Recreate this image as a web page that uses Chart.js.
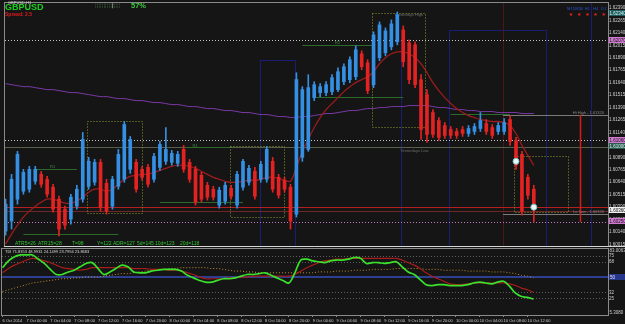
<!DOCTYPE html>
<html><head><meta charset="utf-8">
<script src="https://cdn.jsdelivr.net/npm/chart.js@4.4.1/dist/chart.umd.min.js"></script>
<style>
html,body{margin:0;padding:0;background:#151515;width:625px;height:324px;overflow:hidden;position:relative}
canvas{position:absolute;left:0}
#a{top:-2px}
#b{top:245px}
</style></head><body>
<canvas id="a" width="625" height="253" style="width:625px;height:253px"></canvas>
<canvas id="b" width="625" height="79" style="width:625px;height:79px"></canvas>
<script>
// ---------- DATA (GBPUSD H1, 6 Oct 20:00 .. 10 Oct 13:00) ----------
const TIME_TICKS = ["6 Oct 2014","7 Oct 00:00","7 Oct 04:00","7 Oct 08:00","7 Oct 12:00","7 Oct 16:00","7 Oct 20:00","8 Oct 00:00","8 Oct 04:00","8 Oct 08:00","8 Oct 12:00","8 Oct 16:00","8 Oct 20:00","9 Oct 00:00","9 Oct 04:00","9 Oct 08:00","9 Oct 12:00","9 Oct 16:00","9 Oct 20:00","10 Oct 00:00","10 Oct 04:00","10 Oct 08:00","10 Oct 12:00"];
const TIME_TICK_BARS = [0,4,8,12,16,20,24,28,32,36,40,44,48,52,56,60,64,68,72,76,80,84,88];

const OPEN = [1.6015,1.6025,1.6047,1.6055,1.6057,1.6065,1.6072,1.6067,1.6059,1.6047,
1.6037,1.6027,1.6040,1.6047,1.6060,1.6064,1.6084,1.6063,1.6040,1.6060,
1.6067,1.6077,1.6084,1.6077,1.6079,1.6067,1.6079,1.6085,1.6084,1.6083,
1.6097,1.6084,1.6077,1.6071,1.6061,1.6057,1.6041,1.6045,1.6058,1.6041,
1.6059,1.6064,1.6075,1.6067,1.6067,1.6085,1.6069,1.6066,1.6059,1.6032,
1.6089,1.6097,1.6149,1.6154,1.6154,1.6155,1.6157,1.6165,1.6167,1.6170,
1.6193,1.6184,1.6162,1.6189,1.6194,1.6200,1.6205,1.6217,1.6204,1.6202,
1.6167,1.6152,1.6134,1.6126,1.6121,1.6117,1.6115,1.6117,1.6113,1.6115,
1.6118,1.6123,1.6119,1.6115,1.6115,1.6127,1.6106,1.6092,1.6069,1.6057];
const HIGH = [1.6047,1.6072,1.6095,1.6077,1.6080,1.6080,1.6075,1.6070,1.6062,1.6050,
1.6040,1.6052,1.6061,1.6114,1.6089,1.6087,1.6087,1.6067,1.6070,1.6097,
1.6125,1.6110,1.6087,1.6080,1.6082,1.6093,1.6105,1.6119,1.6096,1.6095,
1.6101,1.6087,1.6080,1.6074,1.6064,1.6060,1.6059,1.6064,1.6061,1.6075,
1.6087,1.6081,1.6079,1.6085,1.6100,1.6089,1.6072,1.6069,1.6062,1.6174,
1.6160,1.6172,1.6165,1.6163,1.6165,1.6172,1.6179,1.6183,1.6190,1.6201,
1.6196,1.6187,1.6215,1.6225,1.6219,1.6227,1.6235,1.6221,1.6207,1.6205,
1.6172,1.6157,1.6137,1.6129,1.6124,1.6120,1.6118,1.6120,1.6121,1.6123,
1.6134,1.6127,1.6122,1.6124,1.6128,1.6131,1.6109,1.6095,1.6072,1.6061];
const LOW = [1.6011,1.6017,1.6042,1.6052,1.6054,1.6062,1.6059,1.6049,1.6034,1.6010,
1.6017,1.6022,1.6037,1.6044,1.6057,1.6061,1.6035,1.6032,1.6037,1.6057,
1.6064,1.6073,1.6054,1.6066,1.6059,1.6064,1.6076,1.6082,1.6081,1.6080,
1.6074,1.6064,1.6041,1.6044,1.6046,1.6046,1.6038,1.6042,1.6047,1.6038,
1.6056,1.6061,1.6047,1.6064,1.6064,1.6054,1.6048,1.6054,1.6017,1.6029,
1.6085,1.6095,1.6146,1.6150,1.6151,1.6152,1.6155,1.6162,1.6164,1.6167,
1.6177,1.6153,1.6159,1.6186,1.6191,1.6197,1.6202,1.6180,1.6163,1.6159,
1.6107,1.6104,1.6109,1.6106,1.6108,1.6108,1.6108,1.6110,1.6110,1.6112,
1.6115,1.6112,1.6108,1.6112,1.6112,1.6101,1.6077,1.6031,1.6047,1.6024];
const CLOSE = [1.6042,1.6067,1.6092,1.6074,1.6077,1.6077,1.6062,1.6052,1.6037,1.6017,
1.6021,1.6049,1.6057,1.6107,1.6085,1.6084,1.6039,1.6035,1.6067,1.6092,
1.6122,1.6107,1.6057,1.6069,1.6062,1.6090,1.6102,1.6097,1.6093,1.6092,
1.6077,1.6067,1.6044,1.6047,1.6049,1.6049,1.6056,1.6061,1.6050,1.6072,
1.6085,1.6078,1.6050,1.6082,1.6097,1.6057,1.6051,1.6057,1.6025,1.6167,
1.6157,1.6159,1.6162,1.6160,1.6162,1.6169,1.6175,1.6180,1.6187,1.6197,
1.6180,1.6156,1.6212,1.6222,1.6216,1.6223,1.6232,1.6185,1.6167,1.6162,
1.6117,1.6112,1.6112,1.6109,1.6111,1.6111,1.6111,1.6113,1.6118,1.6120,
1.6126,1.6115,1.6111,1.6121,1.6124,1.6105,1.6081,1.6035,1.6051,1.6037];

const MA_FAST = [1.6002,1.6012,1.6021,1.6029,1.6035,1.6040,1.6044,1.6047,1.6047,1.6045,
1.6043,1.6043,1.6045,1.6049,1.6054,1.6057,1.6057,1.6055,1.6057,1.6062,
1.6067,1.6070,1.6071,1.6072,1.6072,1.6074,1.6076,1.6078,1.6080,1.6081,
1.6081,1.6080,1.6078,1.6075,1.6072,1.6069,1.6067,1.6065,1.6064,1.6064,
1.6065,1.6066,1.6066,1.6067,1.6069,1.6069,1.6068,1.6066,1.6065,1.6079,
1.6095,1.6107,1.6119,1.6129,1.6137,1.6143,1.6149,1.6155,1.6160,1.6164,
1.6167,1.6170,1.6175,1.6183,1.6189,1.6193,1.6195,1.6195,1.6193,1.6189,
1.6183,1.6174,1.6164,1.6156,1.6149,1.6143,1.6138,1.6134,1.6131,1.6129,
1.6127,1.6126,1.6125,1.6125,1.6124,1.6121,1.6113,1.6101,1.6091,1.6081];
const MA_SLOW = [1.6163,1.6162,1.6161,1.6160,1.6160,1.6159,1.6158,1.6157,1.6157,1.6156,
1.6155,1.6154,1.6154,1.6153,1.6152,1.6151,1.6150,1.6150,1.6149,1.6148,
1.6148,1.6147,1.6146,1.6146,1.6145,1.6144,1.6144,1.6143,1.6142,1.6142,
1.6141,1.6140,1.6140,1.6139,1.6138,1.6138,1.6137,1.6136,1.6136,1.6135,
1.6134,1.6134,1.6133,1.6132,1.6132,1.6131,1.6130,1.6130,1.6129,1.6129,
1.6130,1.6130,1.6131,1.6132,1.6133,1.6133,1.6134,1.6135,1.6136,1.6136,
1.6137,1.6138,1.6138,1.6139,1.6139,1.6140,1.6140,1.6140,1.6141,1.6141,
1.6141,1.6141,1.6140,1.6139,1.6139,1.6138,1.6137,1.6137,1.6136,1.6136,
1.6135,1.6135,1.6135,1.6134,1.6134,1.6134,1.6134,1.6133,1.6133,1.6133];

const MARK_BARS = [86, 89];
const MARK_PRICES = [1.6085, 1.6039];

const PRICE_TICKS = [1.62390,1.62265,1.62140,1.62015,1.61890,1.61765,1.61640,1.61515,1.61390,1.61265,1.61140,1.61015,1.60890,1.60765,1.60640,1.60515,1.60390,1.60265,1.60140,1.60015];
const PRICE_MIN = 1.6000, PRICE_MAX = 1.6244;
const AXIS_MARKS = [1.6234, 1.6207, 1.6106, 1.6100, 1.6036, 1.6025];

// chart objects (prices / bar positions)
const LEVELS = [1.6207, 1.6106, 1.6099, 1.6039, 1.6035, 1.6024];
const GREEN_SEGS = [[5,12,1.6077],[26,40,1.6044],[30,38,1.6099],[50,62,1.6202],[52,67,1.6150],[75,85,1.6133],[3,19,1.6012]];
const BOXES = [[13.8,22.9,1.6126,1.6033],[37.8,46.9,1.6100,1.6029],[61.8,70.7,1.6234,1.6119],[85.7,94.7,1.6090,1.6034]];
const NAVY_V = [[42.8,1.6187],[48.7,1.6187],[66.6,1.6207],[74.7,1.6217],[91.0,1.6217],[98.7,null]];
const NAVY_H = [[42.8,48.7,1.6187],[74.7,91.0,1.6217]];
const RANGE_FROM = 83.8, RANGE_HI = 1.6132, RANGE_LO = 1.6032;
const RED_V = [96.7, 1.6132, 1.6024];
const DIM_RED_V = 83.8;
const TF_LABELS = ['M15','M30','H1','H4','D1'];
const ATR_TEXTS = ['ATR5=26','ATR15=28','T=98','Y=122','ADR=127','5d=145','10d=123','20d=118'];
const TDI_TITLE = 'TDI 71.8353 48.9931 24.1499 23.7994 23.8683';

// TDI sub-window
const TDI_PRICE = [61,69,74,76,76,76,71,66,59,53,53,56,58,62,66,67,60,53,56,60,64,62,56,55,55,57,58,59,59,59,57,52,49,46,44,44,46,48,48,49,51,53,53,54,55,52,49,46,43,55,70,71,69,68,67,69,70,70,71,73,72,66,67,67,66,67,68,62,56,53,47,41,40,41,41,40,40,40,41,43,44,43,42,44,45,39,31,27,26,24];
const TDI_SIGNAL = [55,60,64,67,70,72,71,69,67,64,61,60,59,58,59,61,61,61,61,61,61,61,60,60,60,59,59,59,58,58,57,55,53,50,48,48,48,48,49,49,50,50,51,51,51,51,51,51,51,53,57,61,64,67,69,70,71,71,72,72,72,72,72,72,72,72,72,70,67,64,60,55,51,48,45,42,41,41,42,43,43,43,43,43,43,42,40,37,35,32];
const TDI_BASE = [33,35,37,39,41,43,44,45,46,47,48,48,49,49,50,50,50,51,52,53,54,54,55,56,57,58,59,59,60,60,61,61,61,61,61,60,60,59,58,57,57,56,56,55,55,55,55,55,55,55,55,55,55,56,56,56,57,57,57,58,58,58,59,59,59,59,60,60,60,60,60,59,59,59,58,58,58,58,57,57,57,57,56,56,56,55,54,52,51,49];
const TDI_TICKS = [75, 68, 50, 32, 25];
const TDI_DOTTED = [75, 68, 32, 25];
const TDI_MID = 50;
const TDI_MIN = 5.308, TDI_MAX = 83.0063;

const X_MIN = -0.1, X_MAX = 101.5;

// ---------- RENDER ----------
Chart.defaults.font.family = "'Liberation Sans','DejaVu Sans',sans-serif";
const pts = arr => arr.map((v,i)=>({x:i, y:v}));
const candleColors = OPEN.map((o,i)=> CLOSE[i] >= o ? '#3590e4' : '#e32222');
const wickData = OPEN.map((o,i)=>({x:i, y:[LOW[i], HIGH[i]]}));
const bodyData = OPEN.map((o,i)=>({x:i, y:[Math.min(o,CLOSE[i]), Math.max(o,CLOSE[i])]}));

function hl(ctx,x1,x2,y){ctx.beginPath();ctx.moveTo(x1,Math.round(y)+0.5);ctx.lineTo(x2,Math.round(y)+0.5);ctx.stroke();}
function vl(ctx,x,y1,y2){ctx.beginPath();ctx.moveTo(Math.round(x)+0.5,y1);ctx.lineTo(Math.round(x)+0.5,y2);ctx.stroke();}

const LEVEL_STYLE = [
  {c:'#c4c4c4',d:[1,2]},{c:'#c4c4c4',d:[1,2]},{c:'#56604a',d:[]},
  {c:'#b42020',d:[]},{c:'#6e2626',d:[]},{c:'#c47ac4',d:[1,2]}];

const objectsA = {
  id:'objectsA',
  beforeDatasetsDraw(chart){
    const {ctx, chartArea:a, scales:{x,y}} = chart;
    const X=v=>x.getPixelForValue(v), Y=v=>y.getPixelForValue(v);
    ctx.save();
    ctx.beginPath(); ctx.rect(a.left,a.top,a.right-a.left,a.bottom-a.top); ctx.clip();
    ctx.lineWidth=1;
    ctx.strokeStyle='#1a1e72';
    NAVY_V.forEach(([b,p])=>vl(ctx,X(b),p==null?a.top:Y(p),a.bottom));
    NAVY_H.forEach(([b0,b1,p])=>hl(ctx,X(b0),X(b1),Y(p)));
    ctx.strokeStyle='#4a1818'; vl(ctx,X(DIM_RED_V),a.top,a.bottom);
    LEVELS.forEach((p,k)=>{const s=LEVEL_STYLE[k];ctx.strokeStyle=s.c;ctx.setLineDash(s.d);hl(ctx,a.left,a.right,Y(p));});
    ctx.setLineDash([]);
    ctx.strokeStyle='#2b6a2b';
    GREEN_SEGS.forEach(([b0,b1,p])=>hl(ctx,X(b0),X(b1),Y(p)));
    ctx.strokeStyle='#7a7a7a';
    hl(ctx,X(RANGE_FROM),a.right,Y(RANGE_HI)); hl(ctx,X(RANGE_FROM),a.right,Y(RANGE_LO));
    ctx.strokeStyle='#d41c1c'; ctx.lineWidth=1.5;
    vl(ctx,X(RED_V[0]),Y(RED_V[1]),Y(RED_V[2]));
    ctx.lineWidth=1;
    ctx.strokeStyle='#8c9c2c'; ctx.setLineDash([1,2]);
    BOXES.forEach(([b0,b1,pt,pb])=>{
      const x0=Math.round(X(b0))+0.5,x1=Math.round(X(b1))+0.5,y0=Math.round(Y(pt))+0.5,y1=Math.round(Y(pb))+0.5;
      ctx.strokeRect(x0,y0,x1-x0,y1-y0);});
    ctx.setLineDash([]);
    ctx.font='4px "Liberation Sans"'; ctx.textBaseline='bottom'; ctx.fillStyle='#3f8f3f';
    ctx.fillText('R1',X(7.5),Y(1.6077)); ctx.fillText('R1',X(31.5),Y(1.6099)); ctx.fillText('R2',X(55.5),Y(1.6202));
    ctx.fillStyle='#6e6e6e';
    ctx.fillText('Yesterdays High',X(65.5),Y(1.6230)); ctx.fillText('Yesterdays Low',X(66.5),Y(1.6093));
    ctx.fillStyle='#8a8a8a'; ctx.textAlign='right';
    ctx.fillText('Hi High - '+RANGE_HI.toFixed(5),a.right-4,Y(RANGE_HI));
    ctx.fillText('Lo Low - '+RANGE_LO.toFixed(5),a.right-4,Y(RANGE_LO));
    ctx.restore();
  }
};

const MARK_STYLE = [['#1d5e5e','#d8f0f0'],['#d27ad2','#101010'],['#d27ad2','#101010'],['#2a5d50','#d8f0f0'],['#f0f0f0','#101010'],['#d27ad2','#101010']];
const overlayA = {
  id:'overlayA',
  afterDraw(chart){
    const {ctx, chartArea:a, scales:{y}} = chart;
    const off = 2;
    ctx.save();
    ctx.strokeStyle='#8a8a8a'; ctx.lineWidth=1;
    ctx.strokeRect(a.left-0.5,a.top-0.5,a.right-a.left+1,a.bottom-a.top+1);
    ctx.strokeStyle='#d6d6d6'; hl(ctx,a.left-1,625,a.bottom);
    ctx.font='4.5px "Liberation Sans"'; ctx.textBaseline='middle';
    AXIS_MARKS.forEach((p,k)=>{const yy=Math.round(y.getPixelForValue(p));
      ctx.fillStyle=MARK_STYLE[k][0]; ctx.fillRect(a.right+1,yy-3,625-a.right-1,6);
      ctx.fillStyle=MARK_STYLE[k][1]; ctx.fillText(p.toFixed(5),a.right+1.5,yy+0.3);});
    ctx.textBaseline='top';
    ctx.fillStyle='#dcdcdc'; ctx.font='4px "Liberation Sans"'; ctx.fillText('GBPUSD,H1',8,1+off);
    ctx.fillStyle='#1fd21f'; ctx.font='bold 9px "Liberation Sans"'; ctx.fillText('GBPUSD',5,3.5+off);
    ctx.fillStyle='#e21d1d'; ctx.font='bold 5px "Liberation Sans"'; ctx.fillText('Spread: 2.5',5,12.5+off);
    ctx.fillStyle='#4e7a4e'; ctx.font='5px "DejaVu Sans"'; ctx.fillText('¦¦¦¦¦¦¦¦¦¦¦¦¦¦¦',95,3+off);
    ctx.fillStyle='#e0e0e0'; ctx.fillText('|',112,3+off);
    ctx.fillStyle='#3ecf3e'; ctx.font='bold 7.5px "Liberation Sans"'; ctx.fillText('57%',131,2+off);
    ctx.font='4px "Liberation Sans"'; ctx.textAlign='center';
    TF_LABELS.forEach((t,k)=>{const xx=571+k*8.2;
      ctx.fillStyle='#2a50d8'; ctx.fillText(t,xx,7+off);
      ctx.fillStyle='#e02222'; ctx.font='5px "DejaVu Sans"'; ctx.fillText('★',xx,12+off); ctx.font='4px "Liberation Sans"';});
    ctx.textAlign='left';
    ctx.fillStyle='#2fc42f'; ctx.font='5px "Liberation Sans"'; ctx.textBaseline='middle';
    const ax=[15,38,72,97,113,137,155,180];
    ATR_TEXTS.forEach((t,k)=>ctx.fillText(t,ax[k],244+off));
    ctx.restore();
  }
};

new Chart(document.getElementById('a'), {
  type:'bar',
  data:{datasets:[
    {type:'line', data:pts(MA_SLOW), borderColor:'#7c3aa8', borderWidth:1, pointRadius:0, tension:0.3, order:5},
    {type:'line', data:pts(MA_FAST), borderColor:'#9a1c1c', borderWidth:1.3, pointRadius:0, tension:0.35, order:4},
    {data:wickData, backgroundColor:candleColors, barThickness:1, grouped:false, minBarLength:1, order:3},
    {data:bodyData, backgroundColor:candleColors, barThickness:3, grouped:false, minBarLength:1, order:2},
    {type:'scatter', data:MARK_BARS.map((b,k)=>({x:b,y:MARK_PRICES[k]})), pointRadius:3, pointBackgroundColor:'#eaf8f8', pointBorderColor:'#7cc4c4', pointBorderWidth:1, order:1}
  ]},
  options:{
    responsive:false, animation:false, devicePixelRatio:1, events:[],
    layout:{padding:{left:2,top:5,right:0,bottom:4}},
    plugins:{legend:{display:false}, tooltip:{enabled:false}},
    scales:{
      x:{type:'linear', min:X_MIN, max:X_MAX, offset:false, display:false},
      y:{position:'right', min:PRICE_MIN, max:PRICE_MAX,
         afterBuildTicks:s=>{s.ticks=PRICE_TICKS.map(v=>({value:v}));},
         afterFit:s=>{s.width=17;},
         grid:{display:false, drawTicks:false}, border:{display:false},
         ticks:{color:'#cfcfcf', font:{size:4.5}, padding:1, callback:v=>Number(v).toFixed(5)}}
    }
  },
  plugins:[objectsA, overlayA]
});

const levelsB = {
  id:'levelsB',
  beforeDatasetsDraw(chart){
    const {ctx, chartArea:a, scales:{y}} = chart;
    ctx.save(); ctx.lineWidth=1; ctx.strokeStyle='#5e5e5e'; ctx.setLineDash([1,2]);
    TDI_DOTTED.forEach(v=>hl(ctx,a.left,a.right,y.getPixelForValue(v)));
    ctx.setLineDash([]); ctx.strokeStyle='#2e3f92'; ctx.lineWidth=2;
    ctx.beginPath(); const ym=Math.round(y.getPixelForValue(TDI_MID)); ctx.moveTo(a.left,ym); ctx.lineTo(a.right,ym); ctx.stroke();
    ctx.restore();
  },
  afterDraw(chart){
    const {ctx, chartArea:a, scales:{y}} = chart;
    ctx.save(); ctx.strokeStyle='#8a8a8a'; ctx.lineWidth=1;
    ctx.strokeRect(a.left-0.5,a.top-0.5,a.right-a.left+1,a.bottom-a.top+1);
    ctx.font='4.5px "Liberation Sans"'; ctx.textBaseline='middle';
    const ym=Math.round(y.getPixelForValue(TDI_MID));
    ctx.fillStyle='#26378a'; ctx.fillRect(a.right+1,ym-3,625-a.right-1,6);
    ctx.fillStyle='#e0e0ff'; ctx.fillText(String(TDI_MID),a.right+2,ym+0.3);
    ctx.fillStyle='#cfcfcf';
    ctx.fillText(TDI_MAX.toFixed(4),a.right+1.5,a.top+2);
    ctx.fillText(TDI_MIN.toFixed(4),a.right+1.5,a.bottom-2);
    ctx.fillStyle='#dadada'; ctx.font='4px "Liberation Sans"'; ctx.textBaseline='top';
    ctx.fillText(TDI_TITLE,a.left+3,a.top+1);
    ctx.restore();
  }
};

new Chart(document.getElementById('b'), {
  type:'line',
  data:{datasets:[
    {data:pts(TDI_BASE), borderColor:'#c49030', borderWidth:1, borderDash:[1,2], pointRadius:0, tension:0.3, order:3},
    {data:pts(TDI_SIGNAL), borderColor:'#a81c1c', borderWidth:1.2, pointRadius:0, tension:0.35, order:2},
    {data:pts(TDI_PRICE), borderColor:'#3ae22c', borderWidth:1.7, pointRadius:0, tension:0.35, order:1}
  ]},
  options:{
    responsive:false, animation:false, devicePixelRatio:1, events:[],
    layout:{padding:{left:2,top:4,right:0,bottom:0}},
    plugins:{legend:{display:false}, tooltip:{enabled:false}},
    scales:{
      x:{type:'linear', min:X_MIN, max:X_MAX, offset:false,
         afterBuildTicks:s=>{s.ticks=TIME_TICK_BARS.map(v=>({value:v}));},
         afterFit:s=>{s.height=9;},
         grid:{display:true, drawOnChartArea:false, drawTicks:true, tickLength:2, color:'#8a8a8a'},
         border:{display:false},
         ticks:{color:'#cfcfcf', font:{size:4}, padding:1, align:'start', maxRotation:0, minRotation:0, autoSkip:false,
                callback:(v,k)=>TIME_TICKS[k]}},
      y:{position:'right', min:TDI_MIN, max:TDI_MAX,
         afterBuildTicks:s=>{s.ticks=TDI_TICKS.map(v=>({value:v}));},
         afterFit:s=>{s.width=17;},
         grid:{display:false, drawTicks:false}, border:{display:false},
         ticks:{color:'#cfcfcf', font:{size:4.5}, padding:1, callback:v=>String(v)}}
    }
  },
  plugins:[levelsB]
});
</script>
</body></html>
